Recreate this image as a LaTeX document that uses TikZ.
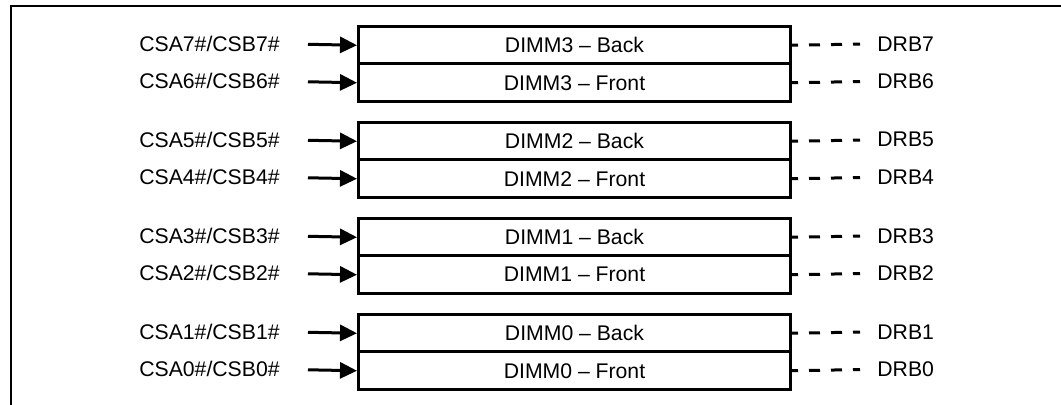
\documentclass[tikz,border=0pt]{standalone}
\usepackage{fontspec}
\setmainfont{Liberation Sans}
\usetikzlibrary{arrows.meta}
\begin{document}
\begin{tikzpicture}[x=0.5pt,y=-0.5pt,
  every node/.style={font=\fontsize{10.6}{12}\selectfont},
  dimmbox/.style={draw,line width=1.5pt,minimum width=216pt,minimum height=18.75pt,inner sep=0pt,anchor=north west},
  lbl/.style={inner sep=0pt},
  arr/.style={line width=1.5pt,-{Triangle[length=8.5pt,width=8pt]},shorten <=14pt},
  dsh/.style={line width=1.5pt,dash pattern=on 5.5pt off 5.5pt,dash phase=2.5pt,shorten >=8.5pt},
  frame/.style={line width=1pt}]
\useasboundingbox (0,0) rectangle (1061,405);
\draw[frame] (11,405) -- (11,6) -- (1061,6);
\foreach \g/\dimm/\b/\f in {0/3/7/6,1/2/5/4,2/1/3/2,3/0/1/0}{
  \pgfmathsetmacro{\top}{25+96*\g}
  \pgfmathsetmacro{\mid}{\top+37.5}
  \node[dimmbox] (b\b) at (357,\top) {DIMM\dimm\ – Back};
  \node[dimmbox] (b\f) at (357,\mid) {DIMM\dimm\ – Front};
  \node[lbl,anchor=east] (c\b) at (280,\top+18.75) {CSA\b\#/CSB\b\#};
  \node[lbl,anchor=east] (c\f) at (280,\mid+18.75) {CSA\f\#/CSB\f\#};
  \node[lbl,anchor=west] (d\b) at (877,\top+18.75) {DRB\b};
  \node[lbl,anchor=west] (d\f) at (877,\mid+18.75) {DRB\f};
  \draw[arr] (c\b.east) -- (b\b.west);
  \draw[arr] (c\f.east) -- (b\f.west);
  \draw[dsh] (b\b.east) -- (d\b.west);
  \draw[dsh] (b\f.east) -- (d\f.west);
}
\end{tikzpicture}
\end{document}
